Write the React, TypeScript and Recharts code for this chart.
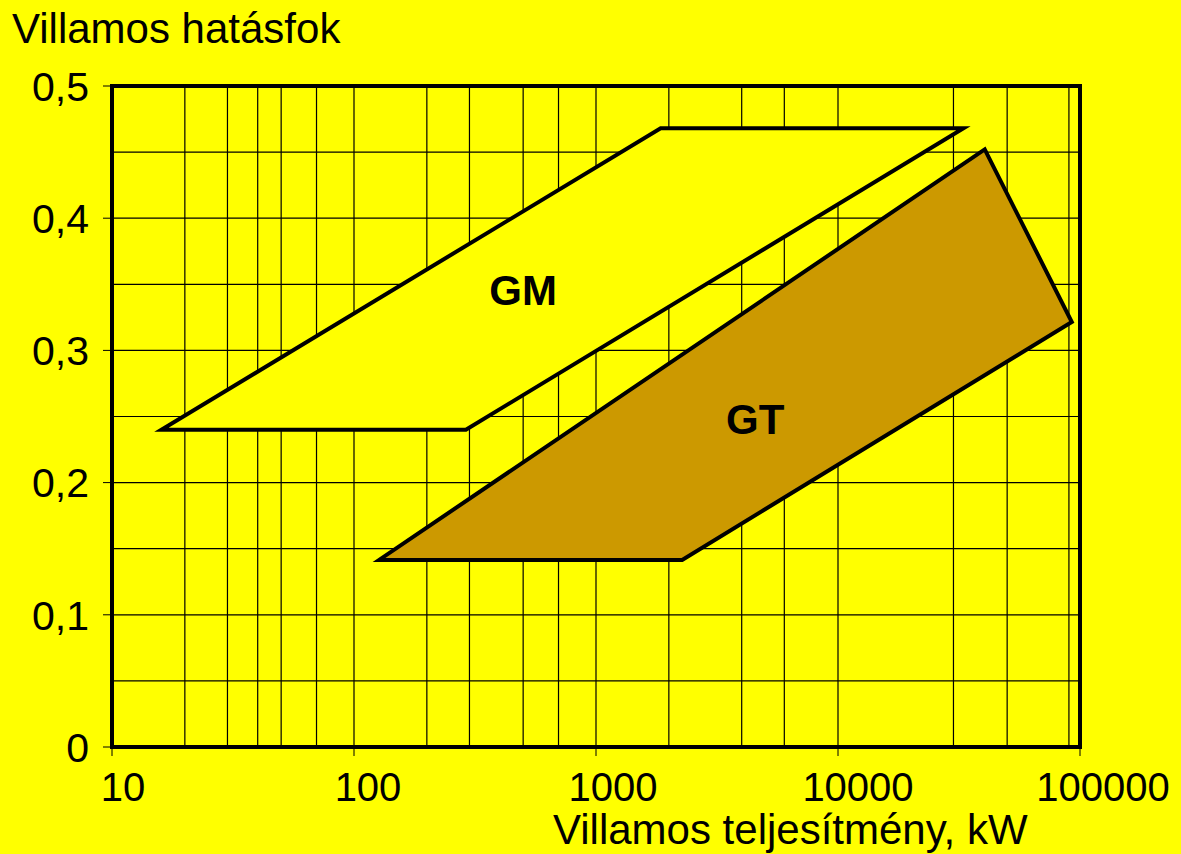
import React from "react"
import { ComposedChart, XAxis, YAxis, CartesianGrid, Scatter, ReferenceArea, Customized } from "recharts"

// sokszögek csúcsai (teljesítmény kW, hatásfok)
const gmPoly = [
  { x: 16, y: 0.24 },
  { x: 290, y: 0.24 },
  { x: 33000, y: 0.468 },
  { x: 1850, y: 0.468 },
]
const gtPoly = [
  { x: 127, y: 0.1415 },
  { x: 2270, y: 0.1415 },
  { x: 92500, y: 0.3215 },
  { x: 40400, y: 0.452 },
]
const areaLabels = [
  { x: 500, y: 0.346, name: "GM" },
  { x: 4550, y: 0.248, name: "GT" },
]
const xTicks = [10, 100, 1000, 10000, 100000]
const yTicks = [0, 0.1, 0.2, 0.3, 0.4, 0.5]
const minorX = [
  20, 30, 40, 50, 60, 70, 80, 90, 100,
  200, 300, 400, 500, 600, 700, 800, 900, 1000,
  2000, 3000, 4000, 5000, 6000, 7000, 8000, 9000, 10000,
  20000, 30000, 40000, 50000, 60000, 70000, 80000, 90000,
]
const gridY = [0.05, 0.1, 0.15, 0.2, 0.25, 0.3, 0.35, 0.4, 0.45]

const FONT = "'Liberation Sans', Arial, sans-serif"

function polyLine(fill: string) {
  return (props: any) => {
    const pts = props.points || []
    if (!pts.length) return <g />
    const d = pts.map((p: any, i: number) => `${i ? "L" : "M"}${p.x},${p.y}`).join(" ") + " Z"
    return <path d={d} fill={fill} stroke="#000" strokeWidth={4} strokeLinejoin="miter" />
  }
}

const XTick = (props: any) => {
  const s = String(props.payload.value)
  return (
    <text x={props.x} y={props.y} dx={3 * s.length + 5} dy="0.71em" textAnchor="middle" fontFamily={FONT} fontSize={40} fill="#000">
      {s}
    </text>
  )
}

const YTick = (props: any) => {
  const v = props.payload.value
  const s = v === 0 ? "0" : v.toFixed(1).replace(".", ",")
  return (
    <text x={props.x} y={props.y} dy="0.36em" textAnchor="end" fontFamily={FONT} fontSize={41} fill="#000">
      {s}
    </text>
  )
}

const Titles = () => (
  <g fontFamily={FONT} fontSize={42} fill="#000">
    <text x={12} y={43}>Villamos hatásfok</text>
    <text x={553} y={844}>Villamos teljesítmény, kW</text>
  </g>
)

export default function App() {
  return (
    <div style={{ position: "absolute", left: 0, top: 0, background: "#FFFF00" }}>
      <ComposedChart width={1181} height={854} margin={{ top: 86, right: 101, bottom: 0, left: 0 }}>
        <CartesianGrid
          stroke="#000"
          strokeWidth={1.2}
          horizontalValues={gridY}
          verticalValues={minorX}
        />
        <XAxis
          dataKey="x"
          type="number"
          scale="log"
          domain={[10, 100000]}
          ticks={xTicks}
          allowDataOverflow
          height={107}
          tickSize={9}
          tickMargin={17}
          tick={<XTick />}
          axisLine={false}
          tickLine={{ stroke: "#000", strokeWidth: 1 }}
        />
        <YAxis
          dataKey="y"
          type="number"
          domain={[0, 0.5]}
          ticks={yTicks}
          allowDataOverflow
          width={112}
          tickSize={9}
          tickMargin={14}
          tick={<YTick />}
          axisLine={false}
          tickLine={{ stroke: "#000", strokeWidth: 1 }}
        />
        <Scatter data={gmPoly} fill="#FFFF00" line={polyLine("#FFFF00")} shape={() => <g />} isAnimationActive={false} />
        <Scatter data={gtPoly} fill="#CC9900" line={polyLine("#CC9900")} shape={() => <g />} isAnimationActive={false} />
        <Scatter
          data={areaLabels}
          isAnimationActive={false}
          shape={(p: any) => (
            <text x={p.cx} y={p.cy} dy="0.36em" textAnchor="middle" fontFamily={FONT} fontWeight="bold" fontSize={42} fill="#000">
              {p.payload.name}
            </text>
          )}
        />
        <ReferenceArea x1={10} x2={100000} y1={0} y2={0.5} fill="none" stroke="#000" strokeWidth={4} ifOverflow="visible" />
        <Customized component={<Titles />} />
      </ComposedChart>
    </div>
  )
}
